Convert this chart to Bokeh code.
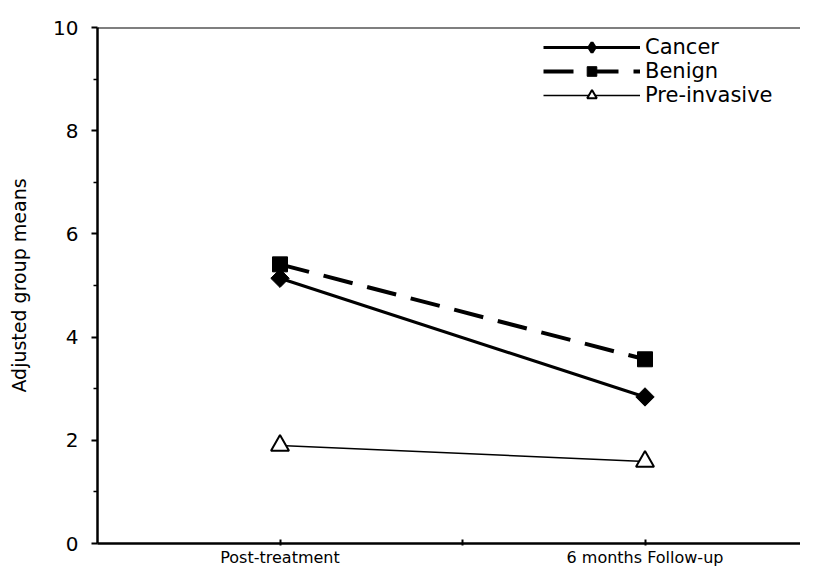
from bokeh.plotting import figure
from bokeh.models import Range1d, FixedTicker, Span, Legend, LegendItem
from bokeh.embed import file_html
from bokeh.resources import INLINE
import math

timepoints = ["Post-treatment", "6 months Follow-up"]
cancer = [5.14, 2.84]
benign = [5.41, 3.57]
preinvasive = [1.90, 1.59]
y_ticks = [0, 2, 4, 6, 8, 10]
y_minor = [1, 3, 5, 7, 9]

# category i sits at x = 2*i + 1 on the axis (tick between them at 2)
xs = [2 * i + 1 for i in range(len(timepoints))]

FONT = "DejaVu Sans"

p = figure(width=800, height=569, output_backend="svg", toolbar_location=None,
           x_range=Range1d(0, 3.852), y_range=Range1d(0, 10),
           min_border_left=97, min_border_top=27, min_border_right=0, min_border_bottom=21)

p.xgrid.visible = False
p.ygrid.visible = False
p.outline_line_color = None
p.background_fill_color = "white"

# y axis
p.yaxis.ticker = FixedTicker(ticks=y_ticks, minor_ticks=y_minor)
p.yaxis.axis_line_width = 2.5
p.yaxis.axis_line_color = "black"
p.yaxis.major_tick_out = 6
p.yaxis.major_tick_in = 0
p.yaxis.major_tick_line_width = 2
p.yaxis.minor_tick_out = 4
p.yaxis.minor_tick_in = 0
p.yaxis.minor_tick_line_width = 1.5
p.yaxis.major_label_standoff = 13
p.yaxis.major_label_text_font = FONT
p.yaxis.major_label_text_font_size = "20px"
p.yaxis.major_label_text_color = "black"
p.yaxis.axis_label = "Adjusted group means"
p.yaxis.axis_label_text_font = FONT
p.yaxis.axis_label_text_font_size = "19px"
p.yaxis.axis_label_text_font_style = "normal"
p.yaxis.axis_label_text_color = "black"
p.yaxis.axis_label_standoff = 20

# x axis
p.xaxis.ticker = FixedTicker(ticks=[1, 2, 3], minor_ticks=[])
p.xaxis.major_label_overrides = {xs[0]: timepoints[0], 2: "", xs[1]: timepoints[1]}
p.xaxis.axis_line_width = 2.5
p.xaxis.axis_line_color = "black"
p.xaxis.major_tick_in = 4
p.xaxis.major_tick_out = 2
p.xaxis.major_tick_line_width = 2
p.xaxis.minor_tick_line_color = None
p.xaxis.major_label_standoff = 2
p.xaxis.major_label_text_font = FONT
p.xaxis.major_label_text_font_size = "16px"
p.xaxis.major_label_text_color = "black"

# top border line
p.add_layout(Span(location=10, dimension="width", line_color="black", line_width=2))

# series
l1 = p.line(xs, cancer, line_color="black", line_width=3)
m1 = p.scatter(xs, cancer, marker="square", angle=math.pi / 4, size=13, color="black")
# diamond hidden under the rotated squares: gives the legend a diamond symbol
m1_leg = p.scatter(xs, cancer, marker="diamond", size=12, fill_color="black",
                   line_color="black", line_width=3)

l2 = p.line(xs, benign, line_color="black", line_width=4, line_dash="30 15")
m2 = p.scatter(xs, benign, marker="square", size=15, color="black")

l3 = p.line(xs, preinvasive, line_color="black", line_width=1.5)
m3 = p.scatter(xs, preinvasive, marker="triangle", size=18, fill_color="white",
               line_color="black", line_width=2)

legend = Legend(items=[
    LegendItem(label="Cancer", renderers=[l1, m1_leg]),
    LegendItem(label="Benign", renderers=[l2, m2]),
    LegendItem(label="Pre-invasive", renderers=[l3, m3]),
], location=(446, 436))
legend.glyph_width = 97
legend.glyph_height = 24
legend.label_height = 24
legend.spacing = 0
legend.padding = 0
legend.margin = 0
legend.label_standoff = 5
legend.border_line_color = None
legend.background_fill_alpha = 0
legend.label_text_font = FONT
legend.label_text_font_size = "21px"
legend.label_text_color = "black"
p.add_layout(legend)

open("out.html", "w").write(file_html(p, INLINE))
